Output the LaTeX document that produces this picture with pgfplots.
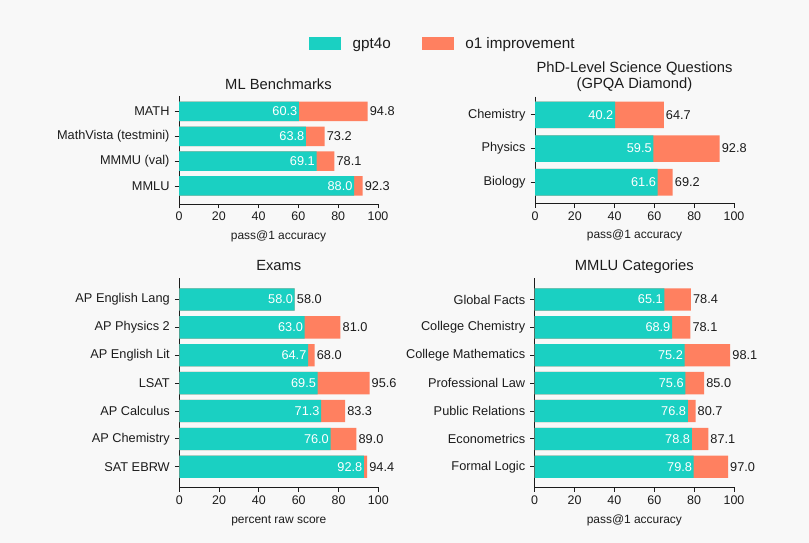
\documentclass[border=0pt]{standalone}
\usepackage{fontspec}
\setmainfont{Liberation Sans}
\usepackage{pgfplots}
\usepackage{pgfplotstable}
\pgfplotsset{compat=1.18}
\definecolor{tealA}{RGB}{26,208,194}
\definecolor{coralA}{RGB}{255,128,96}
\definecolor{bgA}{RGB}{248,248,248}
\definecolor{txtA}{RGB}{28,28,28}

\pgfplotstableread{
y gpt o1
0 60.3 94.8
1 63.8 73.2
2 69.1 78.1
3 88.0 92.3
}\tml
\pgfplotstableread{
y gpt o1
0 40.2 64.7
1 59.5 92.8
2 61.6 69.2
}\tphd
\pgfplotstableread{
y gpt o1
0 58.0 58.0
1 63.0 81.0
2 64.7 68.0
3 69.5 95.6
4 71.3 83.3
5 76.0 89.0
6 92.8 94.4
}\texams
\pgfplotstableread{
y gpt o1
0 65.1 78.4
1 68.9 78.1
2 75.2 98.1
3 75.6 85.0
4 76.8 80.7
5 78.8 87.1
6 79.8 97.0
}\tmmlu

\pgfplotsset{
  panel/.style={
    scale only axis, anchor=south west, clip=false,
    xmin=0, xmax=100, xtick={0,20,...,100},
    axis x line=bottom, axis y line=left,
    axis line style={-, line width=0.9bp, color=txtA},
    tick align=outside, major tick length=4.5bp,
    tick style={line width=0.9bp, color=txtA},
    y dir=reverse, ytick=data,
    xbar, bar shift=0pt,
    /pgf/number format/assume math mode=true,
    xticklabel style={font=\fontsize{12.5}{14}\selectfont, text=txtA},
    yticklabel style={font=\fontsize{12.8}{14}\selectfont, text=txtA, xshift=-1.5bp},
    xlabel style={font=\fontsize{12}{14}\selectfont, text=txtA, at={(axis description cs:0.5,0)}, anchor=base, yshift=-35.7bp},
    title style={font=\fontsize{14.8}{16}\selectfont, text=txtA, at={(axis description cs:0.5,1)}, anchor=south, text depth=0pt, inner sep=0pt, align=center, yshift=0.7bp},
  },
  gptbar/.style={fill=tealA, draw=none, nodes near coords, point meta=x,
    nodes near coords style={anchor=east, text=white, inner sep=1.5bp, font=\fontsize{12.8}{14}\selectfont,
      /pgf/number format/fixed, /pgf/number format/fixed zerofill, /pgf/number format/precision=1}},
  o1bar/.style={fill=coralA, draw=none, nodes near coords, point meta=x,
    nodes near coords style={anchor=west, text=txtA, inner sep=2bp, font=\fontsize{12.8}{14}\selectfont,
      /pgf/number format/fixed, /pgf/number format/fixed zerofill, /pgf/number format/precision=1}},
}

\begin{document}
\begin{tikzpicture}
\fill[bgA] (0,0) rectangle (809bp,543bp);

% ML Benchmarks
\begin{axis}[panel, at={(179bp,339bp)}, width=199bp, height=108bp,
  ymin=-0.62, ymax=3.725, bar width=0.785,
  yticklabels={MATH, MathVista (testmini), MMMU (val), MMLU},
  title={ML Benchmarks}, xlabel={pass@1 accuracy},
  legend columns=2,
  legend image code/.code={\fill[#1] (0bp,-6.5bp) rectangle (32bp,6.5bp);},
  legend style={at={(0.653,1.486)}, anchor=west, draw=none, fill=none, inner sep=0pt,
    font=\fontsize{15.3}{17}\selectfont, text=txtA, nodes={inner sep=0pt},
    /tikz/every odd column/.append style={column sep=11.5bp},
    /tikz/every even column/.append style={column sep=31bp}},
]
\addlegendimage{fill=tealA, draw=none}
\addlegendentry{gpt4o}
\addlegendimage{fill=coralA, draw=none}
\addlegendentry{o1 improvement}
\addplot[o1bar] table[x=o1, y=y] {\tml};
\addplot[gptbar] table[x=gpt, y=y] {\tml};
\end{axis}

% PhD-level
\begin{axis}[panel, at={(535bp,339.7bp)}, width=199bp, height=106.6bp,
  ymin=-0.54, ymax=2.623, bar width=0.79,
  yticklabels={Chemistry, Physics, Biology},
  title={PhD-Level Science Questions\\(GPQA Diamond)}, title style={yshift=1.6bp},
  xlabel={pass@1 accuracy},
]
\addplot[o1bar] table[x=o1, y=y] {\tphd};
\addplot[gptbar] table[x=gpt, y=y] {\tphd};
\end{axis}

% Exams
\begin{axis}[panel, at={(179.3bp,55.7bp)}, width=199bp, height=209bp,
  ymin=-0.76, ymax=6.735, bar width=0.8,
  yticklabels={AP English Lang, AP Physics 2, AP English Lit, LSAT, AP Calculus, AP Chemistry, SAT EBRW},
  title={Exams}, title style={yshift=0.9bp}, xlabel={percent raw score},
]
\addplot[o1bar] table[x=o1, y=y] {\texams};
\addplot[gptbar] table[x=gpt, y=y] {\texams};
\end{axis}

% MMLU Categories
\begin{axis}[panel, at={(534.7bp,55.7bp)}, width=199.3bp, height=209bp,
  ymin=-0.76, ymax=6.735, bar width=0.8,
  yticklabels={Global Facts, College Chemistry, College Mathematics, Professional Law, Public Relations, Econometrics, Formal Logic},
  title={MMLU Categories}, title style={yshift=0.9bp}, xlabel={pass@1 accuracy},
]
\addplot[o1bar] table[x=o1, y=y] {\tmmlu};
\addplot[gptbar] table[x=gpt, y=y] {\tmmlu};
\end{axis}

\pgfresetboundingbox
\path[use as bounding box] (0,0) rectangle (809bp,543bp);
\end{tikzpicture}
\end{document}
